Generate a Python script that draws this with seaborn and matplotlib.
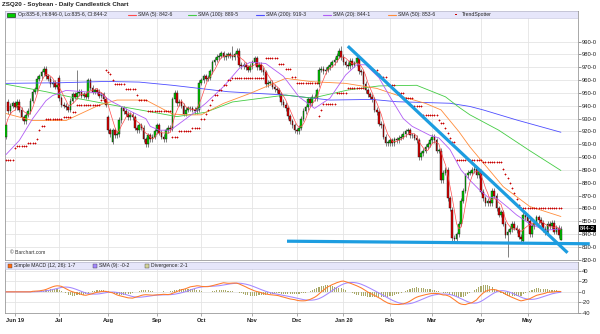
import numpy as np
import pandas as pd
import matplotlib
matplotlib.use('Agg')
import matplotlib.pyplot as plt
import matplotlib.transforms as mtransforms
from matplotlib.patches import Rectangle
from matplotlib.lines import Line2D
import seaborn as sns

sns.set_theme(style='white')
plt.rcParams['font.family'] = ['Liberation Sans', 'DejaVu Sans']

# ---------------- data ----------------
closes = [
    925, 936, 940, 942, 939, 943, 937, 931, 928, 933,
    936, 944, 951, 953, 961, 963, 966, 969, 963, 961,
    957, 958, 955, 956, 946, 941, 940, 939, 937, 944,
    949, 947, 950, 951, 948, 949, 947, 960, 954, 951,
    952, 951, 948, 949, 945, 941, 921, 918, 921, 917,
    918, 929, 938, 936, 934, 931, 933, 931, 923, 921,
    925, 923, 914, 910, 917, 914, 916, 920, 925, 919,
    916, 914, 921, 923, 922, 945, 950, 942, 943, 940,
    934, 937, 938, 938, 937, 936, 938, 958, 960, 963,
    961, 962, 967, 974, 976, 978, 979, 981, 978, 979,
    980, 979, 978, 980, 983, 972, 971, 972, 970, 968,
    971, 974, 977, 970, 972, 968, 966, 957, 958, 958,
    955, 953, 952, 949, 943, 941, 938, 932, 928, 925,
    921, 920, 923, 930, 936, 939, 945, 942, 947, 946,
    952, 968, 969, 967, 968, 970, 972, 974, 976, 979,
    983, 978, 974, 972, 971, 975, 972, 973, 977, 967,
    966, 957, 952, 949, 947, 945, 937, 935, 926, 925,
    916, 911, 911, 913, 911, 914, 913, 915, 916, 918,
    920, 921, 917, 917, 915, 913, 900, 903, 905, 908,
    910, 913, 916, 913, 905, 905, 882, 888, 890, 868,
    860, 837, 836, 840, 848, 866, 874, 886, 888, 888,
    890, 891, 886, 889, 873, 868, 864, 866, 864, 874,
    870, 860, 855, 857, 848, 839, 842, 844, 848, 845,
    843, 838, 836, 855, 853, 850, 840, 846, 849, 853,
    851, 849, 844, 841, 848, 846, 849, 842, 845, 839,
    844.25,
]
gap_opens = {0: 916, 1: 943, 24: 962, 46: 931, 48: 912, 87: 937,
             141: 957, 201: 859, 233: 835, 250: 835.75}
wick_highs = {32: 968, 102: 987, 151: 987, 250: 846}
wick_lows = {226: 822, 250: 835.75}
holidays = ['2019-07-04', '2019-09-02', '2019-11-28', '2019-12-25',
            '2020-01-01', '2020-01-20', '2020-02-17', '2020-04-10']

sma20_idx = [0, 6, 12, 18, 21, 27, 35, 42, 48, 57, 63, 65, 69, 74, 78, 85, 90,
             98, 105, 110, 117, 125, 132, 139, 146, 153, 158, 162, 168, 173,
             179, 183, 191, 195, 200, 205, 209, 213, 217, 221, 226, 230, 236,
             243, 250]
sma20_val = [902, 913, 930, 944, 948, 952, 951, 950, 943, 935, 930, 924, 921,
             921, 926, 935, 942, 955, 969, 974, 973, 963, 947, 938, 946, 964,
             972, 972, 962, 947, 930, 924, 917, 915, 906, 890, 882, 875, 869,
             868, 861, 855, 848, 843, 844.1]
sma50_idx = [0, 12, 27, 42, 50, 63, 75, 82, 88, 98, 110, 126, 138, 153, 167,
             176, 189, 196, 204, 209, 224, 236, 250]
sma50_val = [934, 928.5, 928.5, 940.6, 944.5, 944.5, 933.6, 932.9, 933, 941.9,
             949.7, 961.4, 958.8, 957.5, 953.6, 948.4, 941.9, 936.8, 920, 908,
             877, 861.5, 853.75]
sma100_idx = [0, 18, 32, 50, 63, 77, 90, 102, 126, 138, 154, 168, 185, 198,
              204, 209, 222, 236, 250]
sma100_val = [956.8, 951, 945.8, 940, 936, 931.6, 935, 943, 948.4, 946, 952.3,
              955.5, 956, 947, 939, 933, 921, 905, 889.6]
sma200_idx = [0, 25, 45, 60, 75, 100, 125, 146, 165, 176, 200, 209, 215, 230,
              250]
sma200_val = [957.5, 958, 959, 958.5, 956, 951, 948.5, 944.5, 945, 943.2, 942,
              939.5, 936.8, 929, 919.4]

# TrendSpotter runs: (first day, last day, level)
ts_runs = [
    (0, 3, 898), (4, 4, 907), (5, 9, 909), (10, 13, 911), (14, 14, 914),
    (15, 15, 921), (16, 17, 924), (18, 25, 929.5), (26, 29, 931),
    (30, 31, 935), (32, 42, 940.6), (43, 44, 944.5),
    (45, 45, 968), (46, 46, 966), (47, 47, 964.5), (48, 48, 960),
    (49, 53, 956.7), (54, 58, 953), (59, 59, 948.4), (60, 63, 944.5),
    (64, 74, 936.2),
    (75, 77, 915.4), (78, 83, 920), (84, 87, 922.5), (88, 89, 930),
    (90, 90, 934), (91, 91, 937), (92, 92, 941), (93, 93, 944.5),
    (94, 95, 948.4), (96, 97, 952), (98, 99, 956), (100, 101, 960),
    (102, 116, 961.4),
    (117, 122, 977), (123, 125, 972.5), (126, 128, 969), (129, 130, 962.7),
    (131, 140, 958),
    (141, 141, 932), (142, 142, 937), (143, 148, 941.5), (149, 153, 949.7),
    (154, 161, 954),
    (166, 167, 968), (168, 168, 965), (169, 171, 962.3), (172, 175, 956),
    (176, 179, 950), (180, 183, 945.8), (184, 187, 940), (188, 194, 932.8),
    (195, 195, 929), (196, 197, 926.4), (198, 198, 923), (199, 199, 918.6),
    (200, 200, 915), (201, 202, 912), (203, 214, 898), (215, 223, 896),
    (224, 224, 891), (225, 225, 887), (226, 226, 884), (227, 227, 880),
    (228, 228, 876), (229, 229, 872), (230, 230, 867), (231, 231, 863),
    (232, 250, 860),
]

# hand-drawn trend lines (day index, price)
resist_x = [154, 253]
resist_y = [986.5, 825.5]
support_x = [126.6, 263]
support_y = [834.5, 832.5]

# ---------------- derived ----------------
dates = pd.bdate_range('2019-05-28', '2020-05-22')
dates = dates[~dates.isin(pd.to_datetime(holidays))]
n = len(closes)
dates = dates[:n]
idx = np.arange(n)
c = np.array(closes, float)
o = np.r_[c[0], c[:-1]]
for k, v in gap_opens.items():
    o[k] = v
hi = np.maximum(o, c) + 2
lo = np.minimum(o, c) - 2
for k, v in wick_highs.items():
    hi[k] = v
for k, v in wick_lows.items():
    lo[k] = v

cs = pd.Series(c)
sma5 = cs.rolling(5, min_periods=1).mean()
macd = cs.rolling(12, min_periods=1).mean() - cs.rolling(26, min_periods=1).mean()
sig = macd.rolling(9, min_periods=1).mean()
div = macd - sig

ts_x, ts_y = [], []
for s, e, v in ts_runs:
    for d in range(s, e + 1):
        ts_x.append(d)
        ts_y.append(v)

month_idx, month_lab = [], []
for i in range(1, len(dates)):
    if dates[i].month != dates[i - 1].month:
        month_idx.append(i)
        d = dates[i]
        if len(month_idx) == 1 or d.month == 1:
            month_lab.append(d.strftime('%b %y'))
        else:
            month_lab.append(d.strftime('%b'))

# ---------------- figure ----------------
W, H = 600, 334
fig = plt.figure(figsize=(6, 3.34), dpi=100)
fig.patch.set_facecolor('white')
top_px, bot_px = 11, 259.8
ax = fig.add_axes([5 / W, 1 - bot_px / H, 573 / W, (bot_px - top_px) / H])
ax2 = fig.add_axes([5 / W, 1 - 313 / H, 573 / W, 51 / H])

xlim = (-0.45, 257.7)
for a in (ax, ax2):
    a.set_xlim(*xlim)
    a.set_facecolor('white')
    for sp in a.spines.values():
        sp.set_color('#9a9a9a')
        sp.set_linewidth(0.6)
    a.set_xticks(month_idx)
    a.grid(True, color='#e4e4e4', linewidth=0.6)
    a.set_axisbelow(True)
    a.yaxis.tick_right()

ax.set_ylim(820, 1013.9)
yt = list(range(820, 991, 10))
ax.set_yticks(yt)
ax.set_yticklabels([f'{v}-0' for v in yt])
ax.set_xticklabels([])
ax.tick_params(axis='x', length=0)
ax.tick_params(axis='y', right=True, length=2, width=0.5, color='#666',
               labelsize=4.2, pad=1, labelcolor='#222')

# candles
col = np.where(c >= o, '#00cc00', '#e00000')
ax.vlines(idx, lo, hi, color='#3a3a3a', linewidth=0.45, zorder=2)
ax.bar(idx, np.maximum(np.abs(c - o), 0.5), bottom=np.minimum(o, c), width=0.75,
       color=col, edgecolor='#111111', linewidth=0.3, zorder=3)

# moving averages
kw = dict(ax=ax, estimator=None, sort=False, legend=False, zorder=4)
sns.lineplot(x=sma200_idx, y=sma200_val, color='#4d4dff', linewidth=0.6, **kw)
sns.lineplot(x=sma100_idx, y=sma100_val, color='#44cc44', linewidth=0.6, **kw)
sns.lineplot(x=sma50_idx, y=sma50_val, color='#ff8c3a', linewidth=0.6, **kw)
sns.lineplot(x=sma20_idx, y=sma20_val, color='#b05cf5', linewidth=0.6, **kw)
sns.lineplot(x=idx, y=sma5.values, color='#ff4a4a', linewidth=0.5, **kw)

# TrendSpotter
sns.scatterplot(x=ts_x, y=ts_y, marker='+', s=2.5, color='#c80000',
                linewidth=0.55, ax=ax, zorder=5, legend=False)

# trend lines
ax.plot(resist_x, resist_y, color='#1d9de0', linewidth=2.3,
        solid_capstyle='butt', zorder=6)
ax.plot(support_x, support_y, color='#1d9de0', linewidth=2.3,
        solid_capstyle='butt', zorder=6, clip_on=False)

# legend band (main)
def px(x):
    return (x - 5) / 573

ph = bot_px - top_px
band_h = 7 / ph
ax.add_patch(Rectangle((0, 1 - band_h), 1, band_h, transform=ax.transAxes,
                       facecolor='#e6e6fa', edgecolor='#c4c4dc', linewidth=0.4,
                       zorder=7))
yc = 1 - 3.6 / ph
ax.add_patch(Rectangle((px(7), 1 - 5.8 / ph), px(15) - px(7), 4.2 / ph,
                       transform=ax.transAxes, facecolor='#00cc00',
                       edgecolor='#111', linewidth=0.4, zorder=8))
tk = dict(transform=ax.transAxes, fontsize=3.7, va='center', ha='left',
          color='#222', zorder=8)
ax.text(px(18), yc, 'Op:835-6, Hi:846-0, Lo:835-6, Cl:844-2', **tk)
leg_items = [(128, '#ff4a4a', 'SMA (5): 842-6'),
             (188, '#44cc44', 'SMA (100): 889-5'),
             (256, '#4d4dff', 'SMA (200): 919-3'),
             (323, '#b05cf5', 'SMA (20): 844-1'),
             (388, '#ff8c3a', 'SMA (50): 853-6')]
for x0, cc, lab in leg_items:
    ax.add_line(Line2D([px(x0), px(x0 + 7.5)], [yc, yc], transform=ax.transAxes,
                       color=cc, linewidth=0.8, zorder=8))
    ax.text(px(x0 + 10), yc, lab, **tk)
ax.add_patch(Rectangle((px(455), yc - 0.8 / ph), px(457) - px(455), 1.6 / ph,
                       transform=ax.transAxes, facecolor='#c80000',
                       edgecolor='none', zorder=8))
ax.text(px(462), yc, 'TrendSpotter', **tk)

ax.text(px(10), (bot_px - 252) / ph, '\u00a9 Barchart.com', transform=ax.transAxes,
        fontsize=3.6, va='center', ha='left', color='#333', zorder=8)

# last price box
tr = mtransforms.blended_transform_factory(ax.transAxes, ax.transData)
ax.text(1 + 2.2 / 573, c[-1], '844-2', transform=tr, fontsize=4.2, color='white',
        va='center', ha='left', zorder=10, clip_on=False,
        bbox=dict(boxstyle='square,pad=0.12', fc='black', ec='none'))

fig.text(2 / W, 1 - 4.6 / H, 'ZSQ20 - Soybean - Daily Candlestick Chart',
         fontsize=4.5, fontweight='bold', va='center', ha='left', color='#222')

# ---------------- MACD panel ----------------
ax2.set_ylim(-40.6, 57.3)
ax2.set_yticks([-40, -20, 0, 20, 40])
ax2.set_yticklabels(['-40', '-20', '0', '20', '40'])
ax2.tick_params(axis='y', right=True, length=2, width=0.5, color='#666',
                labelsize=4.2, pad=1, labelcolor='#222')
ax2.set_xticklabels(month_lab)
ax2.tick_params(axis='x', bottom=True, length=2, width=0.5, color='#888',
                labelsize=4.1, pad=1.5, labelcolor='#222')
for t in ax2.get_xticklabels():
    t.set_fontweight('bold')

ax2.bar(idx, div.values, width=0.5, color='#a9a968', linewidth=0, zorder=2)
kw2 = dict(ax=ax2, estimator=None, sort=False, legend=False, zorder=3)
sns.lineplot(x=idx, y=sig.values, color='#a487ff', linewidth=0.75, **kw2)
sns.lineplot(x=idx, y=macd.values, color='#ff7a2a', linewidth=0.75, **kw2)

ph2 = 51
bh2 = 7 / ph2
ax2.add_patch(Rectangle((0, 1 - bh2), 1, bh2, transform=ax2.transAxes,
                        facecolor='#e6e6fa', edgecolor='#c4c4dc', linewidth=0.4,
                        zorder=7))
yc2 = 1 - 3.6 / ph2
tk2 = dict(transform=ax2.transAxes, fontsize=3.7, va='center', ha='left',
           color='#222', zorder=8)
for x0, cc, lab in [(8, '#ff6a10', 'Simple MACD (12, 26): 1-7'),
                    (93, '#a487ff', 'SMA (9): -0-2'),
                    (145, '#d4d49a', 'Divergence: 2-1')]:
    ax2.add_patch(Rectangle((px(x0), yc2 - 2 / ph2), px(x0 + 4) - px(x0), 4 / ph2,
                            transform=ax2.transAxes, facecolor=cc,
                            edgecolor='#444', linewidth=0.3, zorder=8))
    ax2.text(px(x0 + 6), yc2, lab, **tk2)

fig.savefig('out.png', dpi=100, facecolor='white')
